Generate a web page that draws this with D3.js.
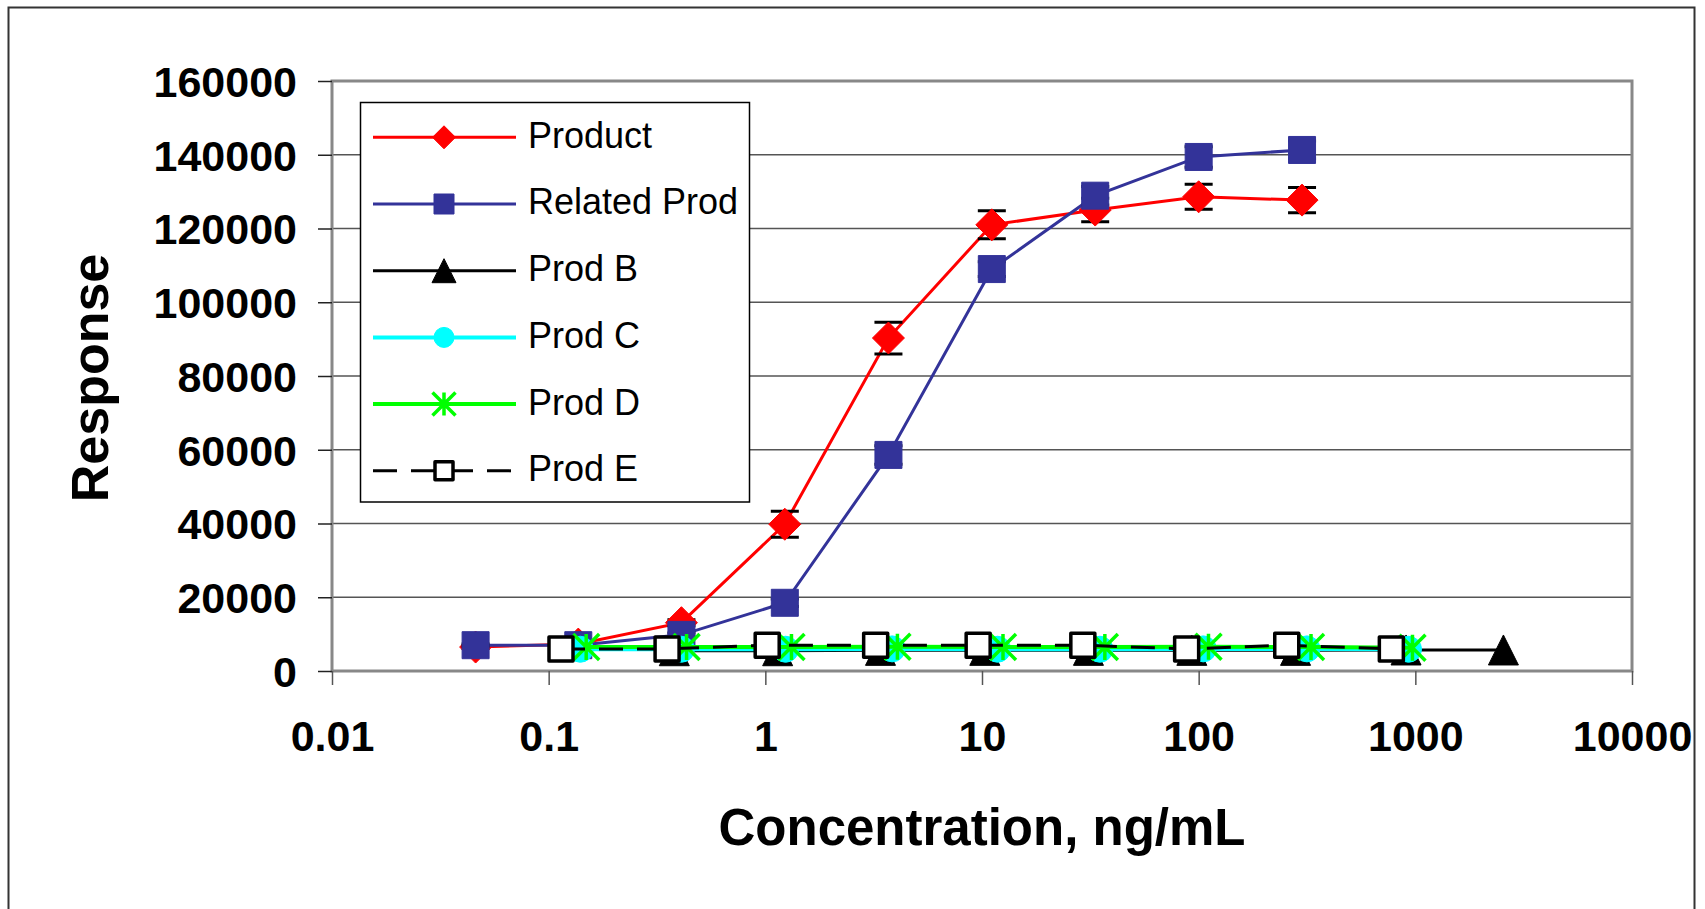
<!DOCTYPE html>
<html>
<head>
<meta charset="utf-8">
<title></title>
<script src="https://cdn.jsdelivr.net/npm/d3@7/dist/d3.min.js"></script>
<style>
  body { margin: 0; background: #fff; }
  text { font-family: "Liberation Sans", Arial, sans-serif; }
</style>
</head>
<body>
<script>
const width = 1705
const height = 909
const plot = { left: 332, right: 1632, top: 81, bottom: 671 }

// data
const xTicks = [0.01, 0.1, 1, 10, 100, 1000, 10000]
const xTickLabels = ['0.01', '0.1', '1', '10', '100', '1000', '10000']
const yTicks = [0, 20000, 40000, 60000, 80000, 100000, 120000, 140000, 160000]

const productX = [0.046, 0.137, 0.41, 1.23, 3.7, 11.1, 33.3, 100, 300]
const productY = [6500, 7300, 13100, 39800, 90300, 121000, 125000, 128600, 127700]
const productErr = [400, 500, 800, 3500, 4300, 3800, 3200, 3400, 3400]

const relatedX = [0.046, 0.137, 0.41, 1.23, 3.7, 11.1, 33.3, 100, 300]
const relatedY = [7000, 7000, 9800, 18500, 58600, 109000, 128900, 139400, 141300]
const relatedErr = [300, 300, 500, 1000, 2500, 2000, 2500, 2800, 2400]

const prodBX = [0.38, 1.14, 3.4, 10.3, 31, 93, 280, 906, 2550]
const prodBY = [5500, 5500, 5600, 5600, 5600, 5600, 5600, 5700, 5700]

const prodCX = [0.14, 0.41, 1.24, 3.85, 11.8, 35, 105, 316, 930]
const prodCY = [5900, 5900, 5900, 6000, 5900, 5900, 6000, 6000, 5900]

const prodDX = [0.149, 0.433, 1.32, 4.07, 12.5, 36.9, 111, 330, 970]
const prodDY = [6500, 6500, 6500, 6600, 6500, 6500, 6600, 6500, 6300]

const prodEX = [0.114, 0.352, 1.02, 3.23, 9.6, 29.2, 88, 255, 775]
const prodEY = [6000, 6000, 7000, 7000, 7000, 7000, 6000, 7000, 6000]

const seriesNames = ['Product', 'Related Prod', 'Prod B', 'Prod C', 'Prod D', 'Prod E']

const series = [
  { name: seriesNames[0], xs: productX, ys: productY, err: productErr, color: '#ff0000', width: 3, marker: 'diamond', fill: '#ff0000' },
  { name: seriesNames[1], xs: relatedX, ys: relatedY, err: relatedErr, color: '#333399', width: 3, marker: 'square', fill: '#333399' },
  { name: seriesNames[2], xs: prodBX, ys: prodBY, color: '#000000', width: 3, marker: 'triangle', fill: '#000000' },
  { name: seriesNames[3], xs: prodCX, ys: prodCY, color: '#00ffff', width: 4, marker: 'circle', fill: '#00ffff' },
  { name: seriesNames[4], xs: prodDX, ys: prodDY, color: '#00ff00', width: 4, marker: 'star', fill: 'none' },
  { name: seriesNames[5], xs: prodEX, ys: prodEY, color: '#000000', width: 3, marker: 'hollow', fill: '#ffffff', dash: '24,14' }
]

const svg = d3.select('body').append('svg')
  .attr('width', width)
  .attr('height', height)

// outer frame
svg.append('rect')
  .attr('x', 8.5).attr('y', 7.5)
  .attr('width', 1686).attr('height', 940)
  .attr('fill', 'none').attr('stroke', '#333').attr('stroke-width', 2)

const x = d3.scaleLog()
  .domain([0.01, 10000])
  .range([plot.left, plot.right])

const y = d3.scaleLinear()
  .domain([0, 160000])
  .range([plot.bottom, plot.top])

// gridlines
svg.append('g')
  .selectAll('line')
  .data(yTicks.slice(1, -1))
  .join('line')
  .attr('x1', plot.left).attr('x2', plot.right)
  .attr('y1', d => y(d)).attr('y2', d => y(d))
  .attr('stroke', '#555').attr('stroke-width', 1.5)

// plot border
svg.append('rect')
  .attr('x', plot.left).attr('y', plot.top)
  .attr('width', plot.right - plot.left).attr('height', plot.bottom - plot.top)
  .attr('fill', 'none').attr('stroke', '#888').attr('stroke-width', 3)

// y axis
const yAxis = svg.append('g')
  .attr('transform', `translate(${plot.left},0)`)
  .call(d3.axisLeft(y).tickValues(yTicks).tickSize(14).tickPadding(21).tickFormat(d3.format('d')))
yAxis.select('.domain').remove()
yAxis.selectAll('line').attr('stroke', '#222').attr('stroke-width', 1.5)
yAxis.selectAll('text')
  .attr('font-size', 43).attr('font-weight', 'bold').attr('fill', '#000')
  .attr('font-family', '"Liberation Sans", Arial, sans-serif')
  .attr('dy', '0.36em')

// x axis
const xAxis = svg.append('g')
  .attr('transform', `translate(0,${plot.bottom})`)
  .call(d3.axisBottom(x).tickValues(xTicks).tickSize(14).tickFormat((d, i) => xTickLabels[i]))
xAxis.select('.domain').remove()
xAxis.selectAll('line').attr('stroke', '#555').attr('stroke-width', 1.5)
xAxis.selectAll('text')
  .attr('font-size', 43).attr('font-weight', 'bold').attr('fill', '#000')
  .attr('font-family', '"Liberation Sans", Arial, sans-serif')
  .attr('y', 80).attr('dy', null)

// axis titles
svg.append('text')
  .attr('x', 982).attr('y', 845)
  .attr('text-anchor', 'middle')
  .attr('font-size', 51).attr('font-weight', 'bold')
  .text('Concentration, ng/mL')

svg.append('text')
  .attr('transform', 'translate(108,378) rotate(-90)')
  .attr('text-anchor', 'middle')
  .attr('font-size', 52).attr('font-weight', 'bold')
  .text('Response')

// marker shapes
function markerPath(type, s) {
  const h = s / 2
  if (type === 'diamond') return `M0,${-h}L${h},0L0,${h}L${-h},0Z`
  if (type === 'square' || type === 'hollow') return `M${-h},${-h}H${h}V${h}H${-h}Z`
  if (type === 'triangle') return `M0,${-h}L${h},${h}H${-h}Z`
  if (type === 'circle') return d3.arc()({ innerRadius: 0, outerRadius: h, startAngle: 0, endAngle: 2 * Math.PI })
  if (type === 'star') return `M0,${-h}V${h}M${-h},${-h}L${h},${h}M${h},${-h}L${-h},${h}`
}

function drawMarker(g, d, s) {
  const p = g.append('path').attr('d', markerPath(d.marker, s))
  if (d.marker === 'star') {
    p.attr('fill', 'none').attr('stroke', d.color).attr('stroke-width', 3.5)
  } else if (d.marker === 'hollow') {
    p.attr('fill', '#fff').attr('stroke', '#000').attr('stroke-width', 3.5).attr('stroke-linejoin', 'round')
  } else {
    p.attr('fill', d.fill).attr('stroke', d.fill).attr('stroke-width', 1).attr('stroke-linejoin', 'round')
  }
  return p
}

const plotSize = { diamond: 32, square: 27, triangle: 30, circle: 26, star: 26, hollow: 24 }
const legendSize = { diamond: 23, square: 20, triangle: 24, circle: 20, star: 23, hollow: 18 }

const line = d3.line()
  .x(d => x(d[0]))
  .y(d => y(d[1]))

const gData = svg.append('g')
series.forEach(s => {
  const pts = s.xs.map((v, i) => [v, s.ys[i]])
  const g = gData.append('g')
  g.append('path')
    .attr('d', line(pts))
    .attr('fill', 'none')
    .attr('stroke', s.color)
    .attr('stroke-width', s.width)
    .attr('stroke-dasharray', s.dash || null)

  // error bars
  if (s.err) {
    pts.forEach((p, i) => {
      const cx = x(p[0])
      const lo = y(p[1] - s.err[i])
      const hi = y(p[1] + s.err[i])
      g.append('path')
        .attr('d', `M${cx},${lo}V${hi}M${cx - 14},${lo}H${cx + 14}M${cx - 14},${hi}H${cx + 14}`)
        .attr('stroke', '#000').attr('stroke-width', 3).attr('fill', 'none')
    })
  }

  pts.forEach(p => {
    drawMarker(g, s, plotSize[s.marker])
      .attr('transform', `translate(${x(p[0])},${y(p[1])})`)
  })
})

// legend
const legend = svg.append('g')
legend.append('rect')
  .attr('x', 360.5).attr('y', 102.5)
  .attr('width', 389).attr('height', 399.5)
  .attr('fill', '#fff').attr('stroke', '#000').attr('stroke-width', 1.5)

series.forEach((s, i) => {
  const cy = 137.3 + i * 66.7
  const row = legend.append('g')
  row.append('line')
    .attr('x1', 373).attr('x2', 516)
    .attr('y1', cy).attr('y2', cy)
    .attr('stroke', s.color).attr('stroke-width', s.width)
    .attr('stroke-dasharray', s.dash || null)
  drawMarker(row, s, legendSize[s.marker])
    .attr('transform', `translate(444,${cy})`)
  row.append('text')
    .attr('x', 528).attr('y', cy + 10.4)
    .attr('font-size', 36)
    .text(s.name)
})
</script>
</body>
</html>
